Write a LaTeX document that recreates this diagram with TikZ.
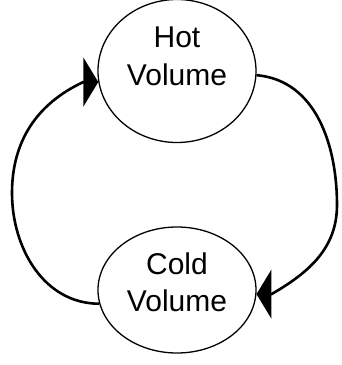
\documentclass[tikz,border=0pt]{standalone}
\usepackage{fontspec}
\setmainfont{Liberation Sans}
\usetikzlibrary{arrows.meta,calc,shapes.geometric}
\begin{document}
\begin{tikzpicture}[x=1pt,y=1pt,
  vol/.style={ellipse, draw, line width=1.3pt, inner sep=0pt},
  lbl/.style={align=center, font=\fontsize{30}{37.5}\selectfont, inner sep=0pt},
  conn/.style={line width=2.6pt, -{Triangle[length=15pt,width=49pt]}}]
\useasboundingbox (0,0) rectangle (342,365);
\node[vol, minimum width=158pt, minimum height=143pt] (hot) at (177,294) {};
\node[vol, minimum width=158pt, minimum height=126pt] (cold) at (177,75) {};
\node[lbl] (hotlbl) at ($(hot.center)+(0,14.5)$) {Hot\\Volume};
\node[lbl] (coldlbl) at ($(cold.center)+(0,7.6)$) {Cold\\Volume};
\coordinate (rmid) at (337,160);
\coordinate (lmid) at (12,172);
\coordinate (rbase) at ($(cold.-3)+(15,0)$);
\coordinate (lbase) at ($(hot.188)+(-15,0)$);
\draw[conn] (hot.-3) to[out=-5,in=90] (rmid) to[out=-90,in=30] (rbase) -- (cold.-3);
\draw[conn] (cold.190) to[out=180,in=-90] (lmid) to[out=90,in=205] (lbase) -- (hot.188);
\end{tikzpicture}
\end{document}
